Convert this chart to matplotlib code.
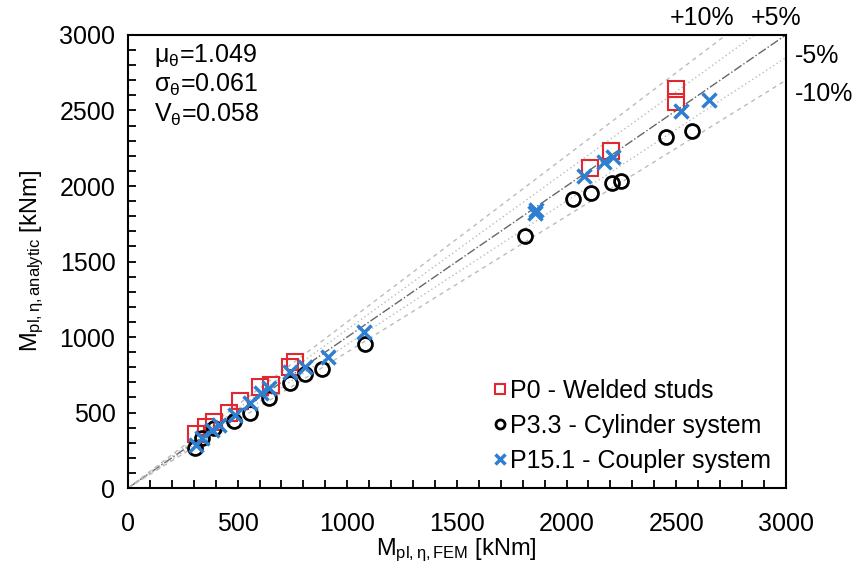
import matplotlib
matplotlib.use('Agg')
import matplotlib.pyplot as plt
from matplotlib.ticker import MultipleLocator

plt.rcParams['font.family'] = ['Liberation Sans', 'DejaVu Sans']
plt.rcParams['mathtext.fontset'] = 'custom'
plt.rcParams['mathtext.rm'] = 'Liberation Sans'
plt.rcParams['mathtext.it'] = 'Liberation Sans'

# P0 - welded studs
p0_fem = [2500, 2500, 2202, 2106, 760, 740, 650, 600, 510, 462, 394, 356, 308]
p0_ana = [2641, 2553, 2234, 2120, 836, 803, 682, 667, 579, 495, 440, 403, 359]
# P3.3 - cylinder system
p33_fem = [2573, 2452, 2250, 2208, 2112, 2029, 1812, 1081, 885, 808, 740, 644, 558,
           485, 394, 337, 304]
p33_ana = [2366, 2327, 2032, 2018, 1952, 1915, 1668, 951, 786, 755, 698, 594, 500,
           445, 396, 330, 264]
# P15.1 - coupler system
p151_fem = [2650, 2523, 2212, 2173, 2081, 1862, 1856, 1077, 913, 808, 740, 644, 606,
            558, 490, 413, 385, 337, 308]
p151_ana = [2569, 2498, 2190, 2157, 2065, 1838, 1820, 1035, 869, 803, 770, 660, 627,
            566, 484, 418, 385, 330, 286]

stats = ['μ$_θ$=1.049', 'σ$_θ$=0.061', 'V$_θ$=0.058']
bounds = [1.10, 1.05, 0.95, 0.90]
bound_labels = ['+10%', '+5%', '-5%', '-10%']

fig = plt.figure(figsize=(8.56, 5.68), dpi=100)
ax = fig.add_axes([0.1495, 0.1408, 0.7685, 0.7976])

# reference lines
ax.plot([0, 3000], [0, 3000], color='#666666', lw=1.0, ls='-.', zorder=1)
for f in bounds:
    ls = (0, (3, 3)) if f in (1.10, 0.90) else (0, (1, 2))
    ax.plot([0, 3000], [0, 3000 * f], color='#bbbbbb', lw=1.0, ls=ls, zorder=1)

ax.plot(p0_fem, p0_ana, ls='none', marker='s', markersize=11, mfc='none',
        mec='#e0282e', mew=1.5, label='P0 - Welded studs', zorder=3)
ax.plot(p33_fem, p33_ana, ls='none', marker='o', markersize=10, mfc='none',
        mec='black', mew=2.0, label='P3.3 - Cylinder system', zorder=3)
ax.plot(p151_fem, p151_ana, ls='none', marker='x', markersize=10,
        mec='#2f7fd0', mew=2.5, label='P15.1 - Coupler system', zorder=4)

ax.set_xlim(0, 3000)
ax.set_ylim(0, 3000)
ax.xaxis.set_major_locator(MultipleLocator(500))
ax.yaxis.set_major_locator(MultipleLocator(500))
ax.xaxis.set_minor_locator(MultipleLocator(100))
ax.yaxis.set_minor_locator(MultipleLocator(100))
ax.tick_params(which='both', direction='in', length=6, width=1.3, labelsize=18)
ax.tick_params(axis='y', which='major', pad=9)
ax.tick_params(axis='x', which='major', pad=17)
for s in ax.spines.values():
    s.set_linewidth(1.5)

ax.set_xlabel('M$_{\\rm pl,η,FEM}$ [kNm]', fontsize=17, labelpad=1)
ax.set_ylabel('M$_{\\rm pl,η,analytic}$ [kNm]', fontsize=17, labelpad=10)

for i, t in enumerate(stats):
    ax.text(0.04, 0.985 - i * 0.066, t, transform=ax.transAxes, fontsize=18,
            va='top', ha='left')

# percentage labels outside the frame
ax.text(2620, 3035, bound_labels[0], fontsize=18, ha='center', va='bottom', clip_on=False)
ax.text(2955, 3035, bound_labels[1], fontsize=18, ha='center', va='bottom', clip_on=False)
ax.text(3040, 2860, bound_labels[2], fontsize=18, ha='left', va='center', clip_on=False)
ax.text(3040, 2610, bound_labels[3], fontsize=18, ha='left', va='center', clip_on=False)

leg = ax.legend(loc='lower right', frameon=False, fontsize=18, markerscale=0.65,
                handlelength=0.6, handletextpad=0.1, labelspacing=0.45,
                borderaxespad=0.2)

fig.savefig('out.png', dpi=100)
